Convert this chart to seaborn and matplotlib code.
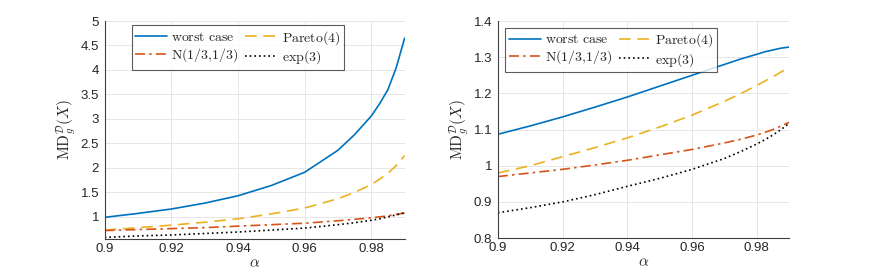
import numpy as np
import matplotlib
matplotlib.use("Agg")
import matplotlib.pyplot as plt
import seaborn as sns
import pandas as pd

# ---------------------------
# Data
# ---------------------------
alpha = [0.90, 0.91, 0.92, 0.93, 0.94, 0.95, 0.96, 0.97, 0.975, 0.98, 0.9825, 0.985, 0.9875, 0.99]

left_worst = [0.99, 1.07, 1.16, 1.28, 1.43, 1.64, 1.91, 2.36, 2.68, 3.06, 3.31, 3.60, 4.05, 4.65]
left_pareto = [0.73, 0.78, 0.83, 0.89, 0.96, 1.06, 1.18, 1.37, 1.50, 1.66, 1.77, 1.89, 2.05, 2.25]
left_normal = [0.72, 0.74, 0.76, 0.78, 0.81, 0.84, 0.87, 0.92, 0.95, 0.98, 1.00, 1.02, 1.05, 1.08]
left_exp = [0.58, 0.61, 0.63, 0.66, 0.69, 0.73, 0.77, 0.84, 0.88, 0.93, 0.96, 1.00, 1.04, 1.08]

right_worst = [1.087, 1.110, 1.135, 1.162, 1.190, 1.220, 1.250, 1.280, 1.295, 1.308, 1.315, 1.320, 1.325, 1.328]
right_pareto = [0.980, 1.000, 1.025, 1.050, 1.077, 1.107, 1.140, 1.178, 1.199, 1.222, 1.234, 1.246, 1.259, 1.272]
right_normal = [0.970, 0.980, 0.990, 1.002, 1.015, 1.030, 1.045, 1.063, 1.073, 1.085, 1.092, 1.100, 1.110, 1.120]
right_exp = [0.870, 0.884, 0.900, 0.920, 0.943, 0.965, 0.990, 1.020, 1.039, 1.060, 1.072, 1.085, 1.100, 1.117]

labels = ["worst case", "Pareto(4)", "N(1/3,1/3)", "exp(3)"]
x_ticks = [0.9, 0.92, 0.94, 0.96, 0.98]
left_yticks = [1, 1.5, 2, 2.5, 3, 3.5, 4, 4.5, 5]
right_yticks = [0.8, 0.9, 1, 1.1, 1.2, 1.3, 1.4]

# ---------------------------
# Style
# ---------------------------
sns.set_theme(style="whitegrid")
plt.rcParams["font.family"] = ["Liberation Sans", "DejaVu Sans"]
plt.rcParams["mathtext.fontset"] = "cm"

colors = ["#0072BD", "#EDB120", "#D95319", "#000000"]
styles = {
    "worst case": dict(ls="-", lw=1.2),
    "Pareto(4)": dict(ls=(0, (7, 4)), lw=1.2),
    "N(1/3,1/3)": dict(ls=(0, (6, 2.5, 1.5, 2.5)), lw=1.2),
    "exp(3)": dict(ls=(0, (1, 1.8)), lw=1.2),
}


def tex(s):
    return "$\\mathrm{" + s.replace(" ", "\\ ").replace(",", "{,}") + "}$"


def draw(ax, series, ylim, yticks, leg_x, leg_y):
    df = pd.DataFrame({"alpha": alpha})
    for lab, vals in zip(labels, series):
        df[lab] = vals
    long = df.melt(id_vars="alpha", var_name="dist", value_name="md")
    for lab, col in zip(labels, colors):
        sub = long[long["dist"] == lab]
        sns.lineplot(data=sub, x="alpha", y="md", ax=ax, color=col,
                     label=tex(lab), **styles[lab])
    h, l = ax.get_legend_handles_labels()
    order = [0, 2, 1, 3]
    leg = ax.legend([h[i] for i in order], [l[i] for i in order], ncol=2,
                    loc="upper left", bbox_to_anchor=(leg_x, leg_y),
                    fontsize=10, frameon=True, fancybox=False,
                    handlelength=2.3, handletextpad=0.3, columnspacing=0.5,
                    borderpad=0.25, labelspacing=0.15, borderaxespad=0.0)
    leg.get_frame().set_edgecolor("#333333")
    leg.get_frame().set_linewidth(0.8)
    ax.set_xlim(0.9, 0.99)
    ax.set_ylim(*ylim)
    ax.set_xticks(x_ticks)
    ax.set_xticklabels([f"{t:g}" for t in x_ticks])
    ax.set_yticks(yticks)
    ax.set_yticklabels([f"{t:g}" for t in yticks])
    ax.set_xlabel(r"$\alpha$", fontsize=11, labelpad=1)
    ax.set_ylabel(r"$\mathrm{MD}_g^{\mathcal{D}}(X)$", fontsize=11, labelpad=2)
    ax.grid(True, color="#e6e6e6", lw=0.7)
    ax.set_facecolor("white")
    for side in ["top", "right"]:
        ax.spines[side].set_visible(False)
    for side in ["left", "bottom"]:
        ax.spines[side].set_color("#404040")
        ax.spines[side].set_linewidth(0.8)
    ax.tick_params(axis="both", labelsize=9.5, colors="#262626",
                   direction="in", length=3, width=0.6)
    ax.tick_params(axis="x", pad=3)
    ax.tick_params(axis="y", pad=4)


fig = plt.figure(figsize=(8.72, 2.73), dpi=100)
ax1 = fig.add_axes([0.120, 0.125, 0.344, 0.798])
ax2 = fig.add_axes([0.571, 0.128, 0.334, 0.795])

draw(ax1, [left_worst, left_pareto, left_normal, left_exp], (0.55, 5), left_yticks,
     0.09, 0.98)
draw(ax2, [right_worst, right_pareto, right_normal, right_exp], (0.8, 1.4), right_yticks,
     0.025, 0.97)

fig.savefig("out.png", dpi=100, facecolor="white")
